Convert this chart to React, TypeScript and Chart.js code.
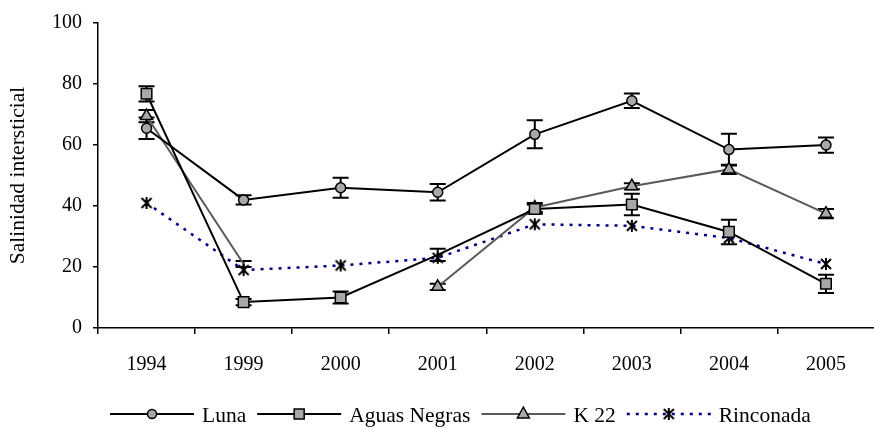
import React, { useEffect, useRef } from 'react';
import { Chart, registerables } from 'chart.js';

Chart.register(...registerables);

const years = ['1994', '1999', '2000', '2001', '2002', '2003', '2004', '2005'];
const luna = [65.5, 42, 46, 44.5, 63.5, 74.5, 58.5, 60];
const lunaErr = [3.5, 1.5, 3.3, 2.7, 4.6, 2.4, 5.2, 2.5];
const aguasNegras = [76.8, 8.5, 10, 24, 39, 40.5, 31.5, 14.5];
const aguasErr = [2.5, 1, 2, 2, 1.5, 3.5, 4, 3];
const k22 = [69.5, 21, null, 13.5, 39.5, 46.5, 52, 37.5];
const k22Err = [2, 1, null, 1, 1.5, 1, 1.5, 1.5];
const rinconada = [41, 19, 20.5, 23, 34, 33.5, 29.5, 21];
const yTicks = [0, 20, 40, 60, 80, 100];

const FONT = '"Liberation Serif", "Times New Roman", serif';
const GRAY = '#a8a8a8';

function makeStar(): HTMLCanvasElement {
  const c = document.createElement('canvas');
  c.width = 14;
  c.height = 14;
  const g = c.getContext('2d')!;
  g.strokeStyle = '#000';
  g.lineWidth = 2;
  g.beginPath();
  g.moveTo(2, 2); g.lineTo(12, 12);
  g.moveTo(12, 2); g.lineTo(2, 12);
  g.moveTo(7, 1); g.lineTo(7, 13);
  g.stroke();
  return c;
}

export default function App() {
  const ref = useRef<HTMLCanvasElement>(null);
  useEffect(() => {
    const star = makeStar();
    const errorPlugin = {
      id: 'errbars',
      beforeDatasetsDraw(chart: any) {
        const ctx = chart.ctx;
        const errs = [lunaErr, aguasErr, k22Err, null];
        const vals = [luna, aguasNegras, k22, rinconada];
        const xs = chart.scales.x;
        const ys = chart.scales.y;
        ctx.save();
        ctx.strokeStyle = '#000';
        ctx.lineWidth = 2;
        errs.forEach((e, di) => {
          if (!e) return;
          vals[di].forEach((v: any, i: number) => {
            if (v == null || e[i] == null) return;
            const x = xs.getPixelForValue(i);
            const y1 = ys.getPixelForValue(v + (e[i] as number));
            const y2 = ys.getPixelForValue(v - (e[i] as number));
            ctx.beginPath();
            ctx.moveTo(x, y1); ctx.lineTo(x, y2);
            ctx.moveTo(x - 8, y1); ctx.lineTo(x + 8, y1);
            ctx.moveTo(x - 8, y2); ctx.lineTo(x + 8, y2);
            ctx.stroke();
          });
        });
        ctx.restore();
      },
    };
    const legendItems = [
      { label: 'Luna', color: '#000', width: 2, dash: [] as number[], marker: 'circle' },
      { label: 'Aguas Negras', color: '#000', width: 2, dash: [], marker: 'rect' },
      { label: 'K 22', color: '#5a5a5a', width: 2, dash: [], marker: 'triangle' },
      { label: 'Rinconada', color: '#000080', width: 2.5, dash: [3, 6], marker: 'star' },
    ];
    const legendPlugin = {
      id: 'customLegend',
      afterDraw(chart: any) {
        const ctx = chart.ctx;
        ctx.save();
        ctx.font = `21.5px ${FONT}`;
        ctx.textBaseline = 'middle';
        let x = 110;
        const y = 414;
        const sample = 84;
        legendItems.forEach((it) => {
          ctx.strokeStyle = it.color;
          ctx.lineWidth = it.width;
          ctx.setLineDash(it.dash);
          ctx.beginPath();
          ctx.moveTo(x, y);
          ctx.lineTo(x + sample, y);
          ctx.stroke();
          ctx.setLineDash([]);
          const cx = x + sample / 2;
          ctx.fillStyle = GRAY;
          ctx.strokeStyle = '#000';
          ctx.lineWidth = 1.5;
          if (it.marker === 'circle') {
            ctx.beginPath();
            ctx.arc(cx, y, 4.5, 0, Math.PI * 2);
            ctx.fill(); ctx.stroke();
          } else if (it.marker === 'rect') {
            ctx.beginPath();
            ctx.rect(cx - 5, y - 5, 10, 10);
            ctx.fill(); ctx.stroke();
          } else if (it.marker === 'triangle') {
            ctx.beginPath();
            ctx.moveTo(cx, y - 7);
            ctx.lineTo(cx + 6, y + 4);
            ctx.lineTo(cx - 6, y + 4);
            ctx.closePath();
            ctx.fill(); ctx.stroke();
          } else {
            ctx.drawImage(star, cx - 7, y - 7);
          }
          ctx.fillStyle = '#000';
          ctx.fillText(it.label, x + sample + 8, y + 2);
          x += sample + 8 + ctx.measureText(it.label).width + 11;
        });
        ctx.restore();
      },
    };
    const chart = new Chart(ref.current!, {
      type: 'line',
      data: {
        labels: years,
        datasets: [
          {
            label: 'Luna', data: luna, borderColor: '#000', borderWidth: 2,
            pointStyle: 'circle', pointRadius: 5, pointBackgroundColor: GRAY,
            pointBorderColor: '#000', pointBorderWidth: 1.5, tension: 0,
          },
          {
            label: 'Aguas Negras', data: aguasNegras, borderColor: '#000', borderWidth: 2,
            pointStyle: 'rect', pointRadius: [7.5, 7.5, 7.5, 0, 7.5, 7.5, 7.5, 7.5], pointBackgroundColor: GRAY,
            pointBorderColor: '#000', pointBorderWidth: 1.5, tension: 0,
          },
          {
            label: 'K 22', data: k22, borderColor: '#5a5a5a', borderWidth: 2,
            pointStyle: 'triangle', pointRadius: [7, 0, 7, 7, 7, 7, 7, 7], pointBackgroundColor: GRAY,
            pointBorderColor: '#000', pointBorderWidth: 1.5, tension: 0, spanGaps: false,
          },
          {
            label: 'Rinconada', data: rinconada, borderColor: '#000080', borderWidth: 2.5,
            borderDash: [3, 6], pointStyle: star as any, pointRadius: 7, tension: 0,
          },
        ],
      },
      options: {
        responsive: false,
        animation: false,
        devicePixelRatio: 1,
        layout: { padding: { top: 20, right: 3, bottom: 41, left: 0 } },
        plugins: { legend: { display: false }, tooltip: { enabled: false } },
        scales: {
          x: {
            type: 'category',
            offset: true,
            grid: { display: true, offset: true, drawOnChartArea: false, drawTicks: true, tickLength: 6, color: '#000', lineWidth: 1.5 },
            border: { display: true, color: '#000', width: 1.5 },
            ticks: { color: '#000', font: { family: FONT, size: 20 }, padding: 19, maxRotation: 0, autoSkip: false },
            afterFit: (s: any) => { s.height = 60; },
          },
          y: {
            min: 0,
            max: 100,
            afterBuildTicks: (s: any) => { s.ticks = yTicks.map((v) => ({ value: v })); },
            grid: { display: true, drawOnChartArea: false, drawTicks: true, tickLength: 5, color: '#000', lineWidth: 1.5 },
            border: { display: true, color: '#000', width: 1.5 },
            ticks: { color: '#000', font: { family: FONT, size: 20 }, padding: 11 },
            title: { display: true, text: 'Salinidad intersticial', color: '#000', font: { family: FONT, size: 21.5 }, padding: { top: 5, bottom: 0 } },
            afterFit: (s: any) => { s.width = 98; },
          },
        },
      },
      plugins: [errorPlugin, legendPlugin],
    });
    return () => chart.destroy();
  }, []);
  return (
    <div style={{ position: 'fixed', left: 0, top: 0, width: 874, height: 429, overflow: 'hidden', background: '#fff' }}>
      <canvas ref={ref} width={884} height={429} style={{ width: 884, height: 429, display: 'block' }} />
    </div>
  );
}
